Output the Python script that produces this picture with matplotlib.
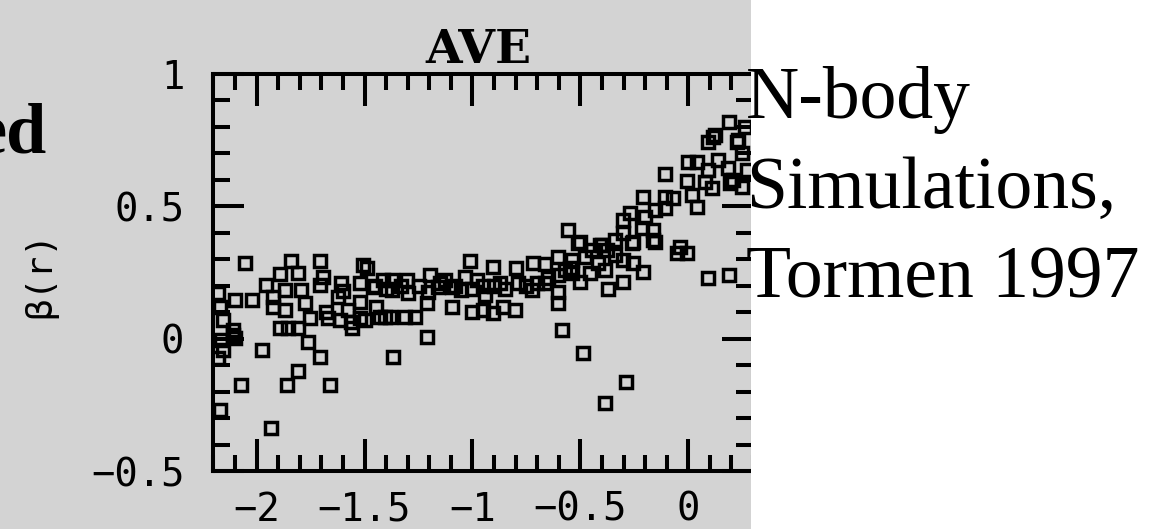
import numpy as np
import matplotlib.pyplot as plt
from matplotlib.patches import Rectangle
from matplotlib.ticker import MultipleLocator

# ---- data: log r (x) vs beta(r) (y)
x_left = [-2.056, -1.842, -1.708, -1.507, -1.491, -1.892, -1.809, -1.693, -1.607, -1.955,
          -1.415, -2.102, -2.022, -1.924, -1.870, -1.793, -1.924, -1.870, -1.778, -1.708,
          -1.677, -1.577, -1.523, -1.446, -1.407, -1.892, -1.855, -1.809, -1.754, -1.669,
          -1.562, -1.500, -1.762, -1.708, -1.974, -1.809, -1.860, -2.071, -1.662, -1.932,
          -2.172, -2.155, -2.109, -2.102, -2.155, -2.178, -2.172, -2.178, -2.164, -2.109,
          -1.368, -1.428, -1.560, -1.614, -1.521, -1.461, -1.523, -1.623, -1.600]
y_left = [0.285, 0.295, 0.295, 0.279, 0.267, 0.244, 0.248, 0.235, 0.210, 0.203,
          0.222, 0.147, 0.147, 0.159, 0.185, 0.185, 0.122, 0.109, 0.134, 0.203,
          0.103, 0.109, 0.140, 0.122, 0.084, 0.042, 0.042, 0.042, 0.078, 0.078,
          0.065, 0.071, -0.011, -0.067, -0.042, -0.121, -0.174, -0.174, -0.174, -0.335,
          -0.268, 0.071, 0.034, 0.002, -0.042, -0.073, 0.122, 0.172, -0.004, 0.015,
          -0.070, 0.084, 0.040, 0.071, 0.078, 0.197, 0.210, 0.159, 0.180]

x_mid = [-1.012, -0.904, -0.800, -0.718, -0.664, -0.602, -0.602, -0.548, -1.374, -1.305,
         -1.197, -1.158, -1.374, -1.297, -1.205, -1.096, -1.212, -1.313, -1.266, -1.382,
         -1.004, -0.950, -0.904, -0.857, -0.803, -1.051, -0.981, -0.942, -0.873, -0.788,
         -0.726, -0.664, -0.602, -0.602, -0.587, -1.212, -1.096, -1.127, -1.035,
         -1.45, -1.40, -1.33, -1.25, -1.15, -1.08, -1.00, -0.95, -0.90, -0.85, -0.75,
         -0.70, -0.65, -0.57]
y_mid = [0.295, 0.273, 0.267, 0.285, 0.283, 0.310, 0.241, 0.267, 0.222, 0.222,
         0.241, 0.197, 0.185, 0.172, 0.178, 0.122, 0.134, 0.084, 0.084, 0.084,
         0.103, 0.109, 0.097, 0.122, 0.109, 0.185, 0.222, 0.166, 0.210, 0.210,
         0.185, 0.210, 0.178, 0.134, 0.034, 0.008, 0.197, 0.222, 0.235,
         0.200, 0.190, 0.200, 0.200, 0.210, 0.200, 0.190, 0.200, 0.200, 0.190, 0.200,
         0.210, 0.230, 0.260]

x_right = [0.189, 0.124, 0.093, 0.224, 0.263, 0.000, 0.039, 0.139, 0.247, -0.108,
           -0.007, 0.093, 0.185, 0.077, 0.108, 0.209, 0.247, 0.271, -0.209, -0.108,
           -0.070, 0.016, 0.039, -0.108, -0.154, -0.270, -0.301, -0.201, -0.216, -0.162,
           -0.301, -0.556, -0.502, -0.401, -0.255, -0.162, -0.340, -0.038, 0.232, 0.116,
           0.193, -0.509, -0.409, -0.262, -0.154, -0.054, -0.007, -0.540, -0.479, -0.417,
           -0.340, -0.301, -0.255, -0.209, -0.301, -0.371, -0.502, -0.455, -0.540, -0.386,
           -0.448, -0.378, 0.093, 0.189, -0.487, -0.289, -0.386]
y_right = [0.820, 0.770, 0.744, 0.744, 0.801, 0.669, 0.669, 0.675, 0.700, 0.622,
           0.597, 0.638, 0.644, 0.593, 0.569, 0.600, 0.575, 0.638, 0.537, 0.537,
           0.531, 0.543, 0.499, 0.493, 0.487, 0.474, 0.449, 0.461, 0.418, 0.411,
           0.399, 0.411, 0.367, 0.354, 0.367, 0.373, 0.373, 0.348, 0.751, 0.763,
           0.587, 0.361, 0.354, 0.361, 0.367, 0.323, 0.323, 0.298, 0.310, 0.285,
           0.317, 0.298, 0.285, 0.254, 0.216, 0.188, 0.216, 0.248, 0.248, 0.260,
           0.336, 0.336, 0.229, 0.241, -0.054, -0.162, -0.241]

xs = np.array(x_left + x_mid + x_right)
ys = np.array(y_left + y_mid + y_right)

x_major = [-2, -1.5, -1, -0.5, 0]
x_major_labels = ['\u22122', '\u22121.5', '\u22121', '\u22120.5', '0']
y_major = [-0.5, 0, 0.5, 1]
y_major_labels = ['\u22120.5', '0', '0.5', '1']

W, H = 1164, 529
gray = '#d3d3d3'
mono = 'DejaVu Sans Mono'

fig = plt.figure(figsize=(W / 100, H / 100), dpi=100, facecolor='white')
fig.add_artist(Rectangle((0, 0), 751 / W, 1, transform=fig.transFigure,
                         facecolor=gray, edgecolor='none', zorder=-10))

ax = fig.add_axes([213.5 / W, 1 - 471.3 / H, 539.5 / W, 397.3 / H])
ax.set_facecolor(gray)
ax.plot(xs, ys, 's', mfc='none', mec='black', ms=8.2, mew=2.5)

ax.set_xlim(-2.2, 0.3)
ax.set_ylim(-0.5, 1)
ax.set_xticks(x_major)
ax.set_xticklabels(x_major_labels)
ax.set_yticks(y_major)
ax.set_yticklabels(y_major_labels)
ax.xaxis.set_minor_locator(MultipleLocator(0.1))
ax.yaxis.set_minor_locator(MultipleLocator(0.1))

for s in ax.spines.values():
    s.set_linewidth(2.9)
ax.tick_params(which='both', direction='in', top=True, right=True, width=2.9, color='black')
ax.tick_params(axis='x', which='major', length=23, pad=14, labelsize=28)
ax.tick_params(axis='y', which='major', length=22.5, pad=21, labelsize=28)
ax.tick_params(axis='x', which='minor', length=11.5)
ax.tick_params(axis='y', which='minor', length=12.5)
for lab in ax.get_xticklabels() + ax.get_yticklabels():
    lab.set_family(mono)

ax.set_title('AVE', family='DejaVu Serif', fontweight='bold', fontsize=34,
             x=0.491, pad=8)

fig.text(40 / W, 1 - 275 / H, '\u03b2(r)', family=mono, fontsize=26,
         rotation=90, ha='center', va='center')

# white slide area covering the right edge of the plot
fig.add_artist(Rectangle((751 / W, 0), 1 - 751 / W, 1, transform=fig.transFigure,
                         facecolor='white', edgecolor='none', zorder=1))

serif = 'Liberation Serif'
fig.text(47 / W, 1 - 152 / H, 'ed', family=serif, fontweight='bold', fontsize=52,
         ha='right', va='baseline', zorder=3)
for txt, base in [('N-body', 118), ('Simulations,', 208), ('Tormen 1997', 298)]:
    fig.text(746 / W, 1 - base / H, txt, family=serif, fontsize=53,
             ha='left', va='baseline', zorder=3)

fig.savefig('out.png', dpi=100, facecolor=fig.get_facecolor())
